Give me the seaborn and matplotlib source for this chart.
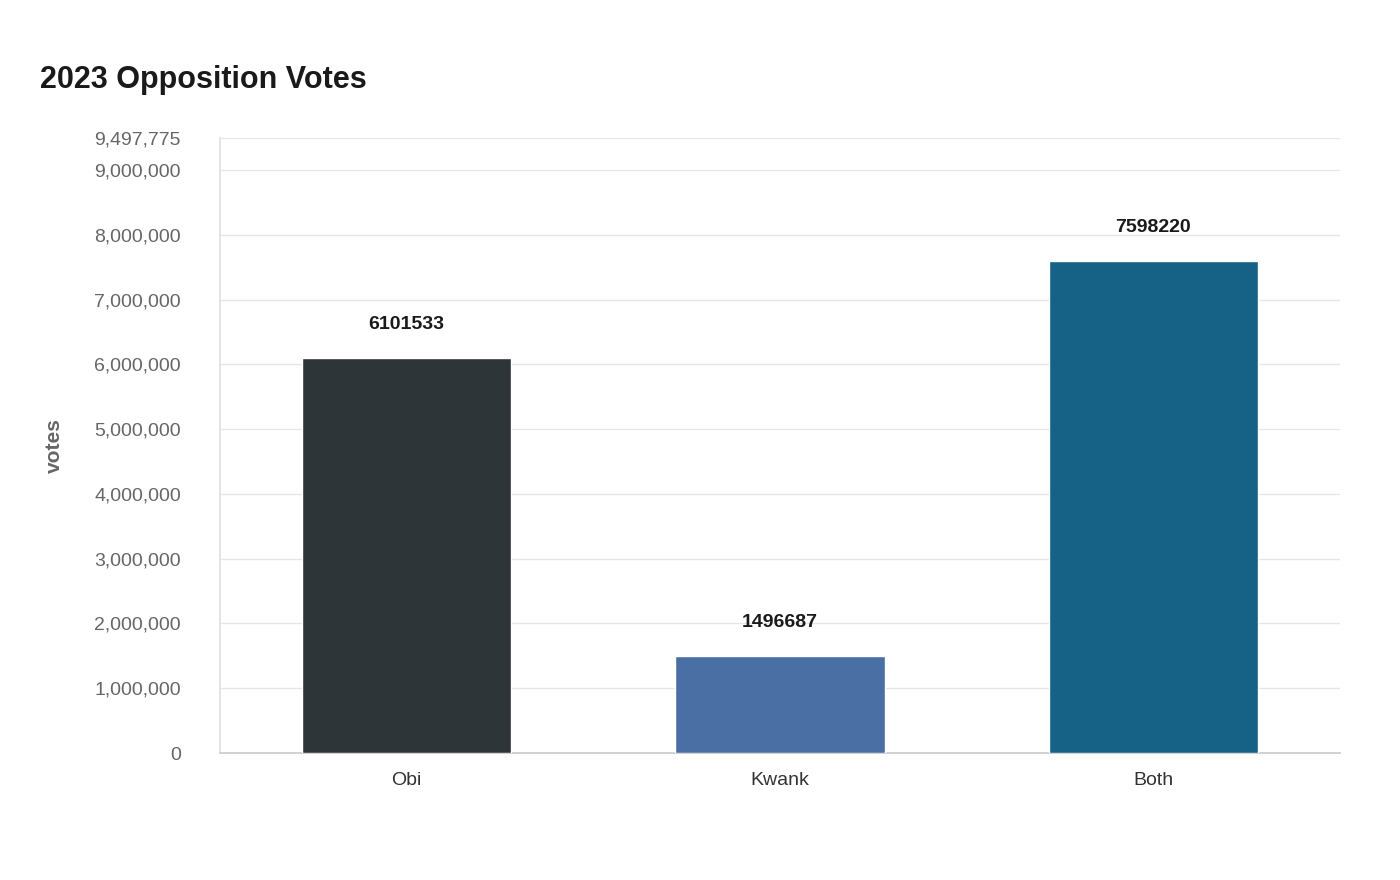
import matplotlib
matplotlib.use("Agg")
import matplotlib.pyplot as plt
import seaborn as sns
import pandas as pd
import matplotlib.ticker as mtick

categories = ["Obi", "Kwank", "Both"]
votes = [6101533, 1496687, 7598220]
bar_colors = ["#2e3538", "#4a6fa5", "#166186"]
y_max = 9497775

sns.set_theme(style="white")
plt.rcParams["font.family"] = ["Liberation Sans", "DejaVu Sans"]

df = pd.DataFrame({"category": categories, "votes": votes})

fig = plt.figure(figsize=(14, 8.8), dpi=100)
ax = fig.add_axes([220 / 1400, 1 - 753 / 880, 1120 / 1400, 615 / 880])

sns.barplot(data=df, x="category", y="votes", hue="category", palette=bar_colors,
            width=0.56, legend=False, ax=ax, zorder=3, saturation=1)

ax.set_ylim(0, y_max)
ticks = list(range(0, 9000001, 1000000)) + [y_max]
ax.set_yticks(ticks)
ax.yaxis.set_major_formatter(mtick.FuncFormatter(lambda v, p: f"{int(v):,}"))
ax.grid(axis="y", color="#e6e6e6", linewidth=1, zorder=0)
ax.tick_params(axis="y", labelsize=14, labelcolor="#666666", length=0, pad=28)
ax.tick_params(axis="x", labelsize=14, labelcolor="#333333", length=0, pad=14)

for s in ["top", "right"]:
    ax.spines[s].set_visible(False)
ax.spines["left"].set_color("#e0e0e0")
ax.spines["bottom"].set_color("#cccccc")

for i, v in enumerate(votes):
    ax.annotate(str(v), (i, v), xytext=(0, 18), textcoords="offset points",
                ha="center", va="bottom", fontsize=14, fontweight="bold", color="#1a1a1a")

ax.set_xlabel("")
ax.set_ylabel("votes", fontsize=15, fontweight="bold", color="#666666", labelpad=22)

fig.text(40 / 1400, 1 - 80 / 880, "2023 Opposition Votes", fontsize=22,
         fontweight="bold", color="#1a1a1a", va="center")

fig.savefig("out.png", dpi=100)
